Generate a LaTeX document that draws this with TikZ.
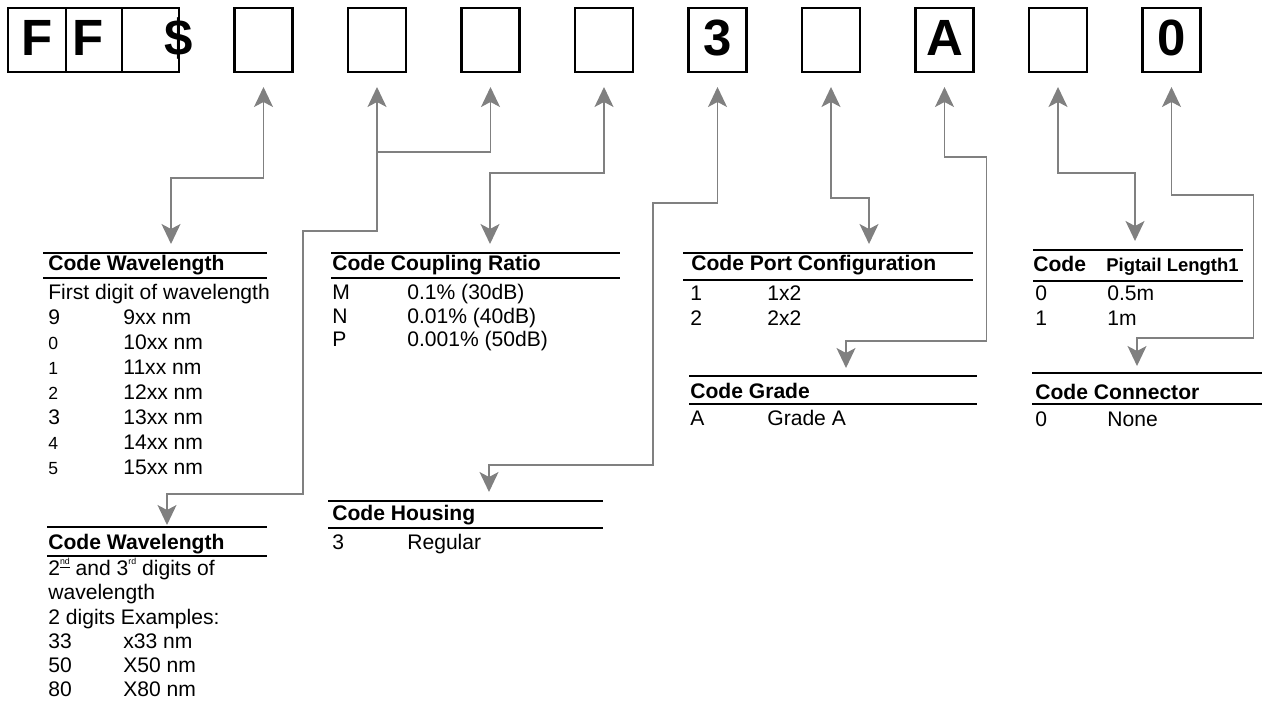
\documentclass[tikz,border=0pt]{standalone}
\usepackage{fontspec}
\setmainfont{Liberation Sans}
\usetikzlibrary{arrows.meta}
\definecolor{linkgray}{RGB}{128,128,128}

\begin{document}
\begin{tikzpicture}[x=0.02cm, y=-0.02cm,
		link/.style = {draw=linkgray, line width=0.8pt, >={Stealth[length=0.4cm, width=0.38cm, inset=0.1cm]}},
		cell/.style = {draw, line width=1.2pt, minimum width=1.16cm, minimum height=1.28cm, inner sep=0pt},
		big/.style = {anchor=base, inner sep=0pt, font=\bfseries\fontsize{29}{29}\selectfont},
		rule/.style = {line width=1.6pt},
		hd/.style = {anchor=base west, inner sep=0pt, font=\bfseries\fontsize{12}{14}\selectfont},
		txt/.style = {anchor=base west, inner sep=0pt, font=\fontsize{12}{14}\selectfont},
		]
		\useasboundingbox (0,0) rectangle (1263,702);
		
		% part number boxes
		\node[cell, line width=0.8pt, minimum width=1.16cm] (ff1) at (37,40) {};
		\node[cell, line width=0.8pt, minimum width=1.12cm] (ff2) at (94,40) {};
		\node[cell, line width=0.8pt, minimum width=1.14cm] (ff3) at (150.5,40) {};
		\node[big] (lf1) at (37,56) {F};
		\node[big] (lf2) at (88,56) {F};
		\node[big] (ldol) at (179,56) {\$};
		\foreach \i/\t in {1/,2/,3/,4/,5/3,6/,7/A,8/,9/0} {
			\node[cell] (b\i) at (150+113.5*\i, 40) {};
			\node[big] (t\i) at (150+113.5*\i, 56) {\t};
			\coordinate (u\i) at (150+113.5*\i, 87);
		}
		
		% wavelength, first digit
		\draw[rule] (43,253) -- (267,253);
		\draw[rule] (43,278) -- (267,278);
		\node[hd] (wlh) at (48,271) {Code Wavelength};
		\node[txt] (wlsub) at (48,299) {First digit of wavelength};
		\foreach \c/\s/\v [count=\k] in {9/12/9xx nm, 0/10/10xx nm, 1/10/11xx nm, 2/10/12xx nm, 3/12/13xx nm, 4/10/14xx nm, 5/10/15xx nm} {
			\node[txt, font=\fontsize{\s}{14}\selectfont] (wlc\k) at (48, 299+25.1*\k) {\c};
			\node[txt] (wlv\k) at (123, 299+25.1*\k) {\v};
		}
		\coordinate (d1) at (171,244);
		
		% wavelength, second and third digits
		\draw[rule] (47,527) -- (267,527);
		\draw[rule] (47,556) -- (267,556);
		\node[hd] (wth) at (48,549) {Code Wavelength};
		\node[txt] (wts1) at (48,575) {2\raisebox{6pt}{\fontsize{5}{5}\selectfont\underline{nd}} and 3\raisebox{6pt}{\fontsize{5}{5}\selectfont rd} digits of};
		\node[txt] (wts2) at (48,599) {wavelength};
		\node[txt] (wts3) at (48,624) {2 digits Examples:};
		\foreach \c/\v [count=\k] in {33/x33 nm, 50/X50 nm, 80/X80 nm} {
			\node[txt] (wtc\k) at (48, 624+24*\k) {\c};
			\node[txt] (wtv\k) at (123, 624+24*\k) {\v};
		}
		\coordinate (d2) at (167,525);
		\coordinate (j2) at (377,152);
		
		% coupling ratio
		\draw[rule] (331,253) -- (620,253);
		\draw[rule] (331,278) -- (620,278);
		\node[hd] (crh) at (332,271) {Code Coupling Ratio};
		\foreach \c/\v [count=\k] in {M/0.1\% (30dB), N/0.01\% (40dB), P/0.001\% (50dB)} {
			\node[txt] (crc\k) at (332, 276+23.5*\k) {\c};
			\node[txt] (crv\k) at (407, 276+23.5*\k) {\v};
		}
		\coordinate (d4) at (490,244);
		
		% housing
		\draw[rule] (328,501) -- (603,501);
		\draw[rule] (328,528) -- (603,528);
		\node[hd] (hsh) at (332,520) {Code Housing};
		\node[txt] (hsc) at (332,549) {3};
		\node[txt] (hsv) at (407,549) {Regular};
		\coordinate (d5) at (489,492);
		
		% port configuration
		\draw[rule] (683,253) -- (973,253);
		\draw[rule] (683,280) -- (973,280);
		\node[hd] (pch) at (691,271) {Code Port Configuration};
		\foreach \c/\v [count=\k] in {1/1x2, 2/2x2} {
			\node[txt] (pcc\k) at (690, 275+25*\k) {\c};
			\node[txt] (pcv\k) at (767, 275+25*\k) {\v};
		}
		\coordinate (d6) at (869,244);
		
		% grade
		\draw[rule] (689,376) -- (977,376);
		\draw[rule] (689,404) -- (977,404);
		\node[hd] (grh) at (690,398) {Code Grade};
		\node[txt] (grc) at (690,425) {A};
		\node[txt] (grv) at (767,425) {Grade A};
		\coordinate (d7) at (846,368);
		
		% pigtail length
		\draw[rule] (1033,250) -- (1243,250);
		\draw[rule] (1033,281) -- (1243,281);
		\node[hd] (plh) at (1033,272) {Code};
		\node[hd, font=\bfseries\fontsize{10.5}{12}\selectfont] (plt) at (1106,272) {Pigtail Length1};
		\foreach \c/\v [count=\k] in {0/0.5m, 1/1m} {
			\node[txt] (plc\k) at (1035, 275+25*\k) {\c};
			\node[txt] (plv\k) at (1107, 275+25*\k) {\v};
		}
		\coordinate (d8) at (1135,241);
		
		% connector
		\draw[rule] (1032,373) -- (1262,373);
		\draw[rule] (1032,404) -- (1262,404);
		\node[hd] (cnh) at (1035,399) {Code Connector};
		\node[txt] (cnc) at (1035,426) {0};
		\node[txt] (cnv) at (1107,426) {None};
		\coordinate (d9) at (1137,366);
		
		% links
		\draw[link, <->] (u1) -- ++(0,91) -| (d1);
		\draw[link, <->] (u2) -- ++(0,144) -- ++(-74,0) -- ++(0,263) -| (d2);
		\draw[link, ->] (j2) -| (u3);
		\draw[link, <->] (u4) -- ++(0,86) -| (d4);
		\draw[link, <->] (u5) -- ++(0,116) -- ++(-64.5,0) -- ++(0,262) -| (d5);
		\draw[link, <->] (u6) -- ++(0,111) -| (d6);
		\draw[link, <->] (u7) -- ++(0,70) -- ++(42,0) -- ++(0,184) -| (d7);
		\draw[link, <->] (u8) -- ++(0,86) -| (d8);
		\draw[link, <->] (u9) -- ++(0,108) -- ++(82,0) -- ++(0,143) -| (d9);
	\end{tikzpicture}
\end{document}
